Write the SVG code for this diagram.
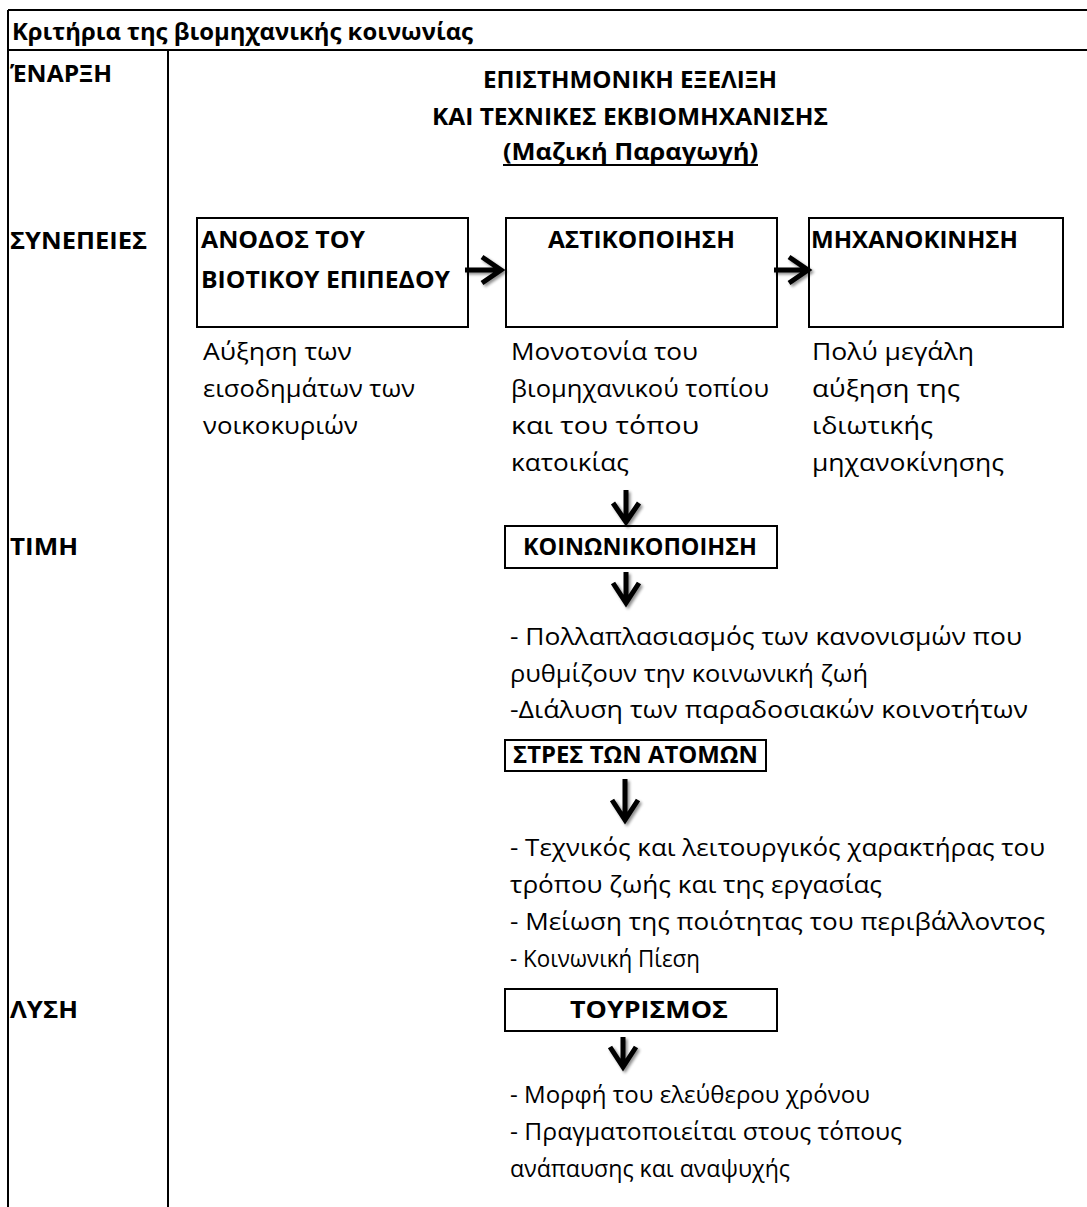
<svg xmlns="http://www.w3.org/2000/svg" width="1087" height="1207" viewBox="0 0 1087 1207">
<style>
text{font-family:"Open Sans","Noto Sans","Liberation Sans",sans-serif;font-size:23px;fill:#000}
.b{font-weight:bold}
.frame{stroke:#000;stroke-width:2;fill:none}
.box{stroke:#000;stroke-width:2;fill:#fff}
.arr{stroke:#000;stroke-width:5;fill:none;stroke-linejoin:miter;stroke-linecap:butt}
</style>
<defs>
<filter id="sh" x="-50%" y="-50%" width="200%" height="200%">
<feGaussianBlur in="SourceAlpha" stdDeviation="1.6"/>
<feOffset dx="2" dy="2" result="o"/>
<feComponentTransfer><feFuncA type="linear" slope="0.45"/></feComponentTransfer>
<feMerge><feMergeNode/><feMergeNode in="SourceGraphic"/></feMerge>
</filter>
</defs>
<rect width="1087" height="1207" fill="#fff"/>
<g id="frame">
<path class="frame" d="M8,10 H1087 M8,50 H1087 M8,10 V1207 M168,50 V1207"/>
<text class="b" x="12" y="40" textLength="461" lengthAdjust="spacingAndGlyphs">Κριτήρια της βιομηχανικής κοινωνίας</text>
</g>
<g id="labels">
<text class="b" x="10" y="82" textLength="102" lengthAdjust="spacingAndGlyphs">ΈΝΑΡΞΗ</text>
<text class="b" x="10" y="249" textLength="137" lengthAdjust="spacingAndGlyphs">ΣΥΝΕΠΕΙΕΣ</text>
<text class="b" x="10" y="555" textLength="68" lengthAdjust="spacingAndGlyphs">ΤΙΜΗ</text>
<text class="b" x="10" y="1018" textLength="68" lengthAdjust="spacingAndGlyphs">ΛΥΣΗ</text>
</g>
<g id="start">
<text class="b" x="483" y="88" textLength="294" lengthAdjust="spacingAndGlyphs">ΕΠΙΣΤΗΜΟΝΙΚΗ ΕΞΕΛΙΞΗ</text>
<text class="b" x="432" y="125" textLength="396" lengthAdjust="spacingAndGlyphs">ΚΑΙ ΤΕΧΝΙΚΕΣ ΕΚΒΙΟΜΗΧΑΝΙΣΗΣ</text>
<text class="b" x="503" y="160" textLength="255" lengthAdjust="spacingAndGlyphs">(Μαζική Παραγωγή)</text>
<rect x="503" y="164" width="255" height="2" fill="#000"/>
</g>
<g id="node-anodos">
<rect class="box" x="197" y="218" width="271" height="109"/>
<text class="b" x="201" y="248" textLength="164" lengthAdjust="spacingAndGlyphs">ΑΝΟΔΟΣ ΤΟΥ</text>
<text class="b" x="201" y="288" textLength="249" lengthAdjust="spacingAndGlyphs">ΒΙΟΤΙΚΟΥ ΕΠΙΠΕΔΟΥ</text>
<text x="203" y="360" textLength="149" lengthAdjust="spacingAndGlyphs">Αύξηση των</text>
<text x="203" y="397" textLength="212" lengthAdjust="spacingAndGlyphs">εισοδημάτων των</text>
<text x="203" y="434" textLength="155" lengthAdjust="spacingAndGlyphs">νοικοκυριών</text>
</g>
<g id="node-astikopoiisi">
<rect class="box" x="506" y="218" width="271" height="109"/>
<text class="b" x="548" y="248" textLength="187" lengthAdjust="spacingAndGlyphs">ΑΣΤΙΚΟΠΟΙΗΣΗ</text>
<text x="511" y="360" textLength="187" lengthAdjust="spacingAndGlyphs">Μονοτονία του</text>
<text x="511" y="397" textLength="258" lengthAdjust="spacingAndGlyphs">βιομηχανικού τοπίου</text>
<text x="511" y="434" textLength="188" lengthAdjust="spacingAndGlyphs">και του τόπου</text>
<text x="511" y="471" textLength="118" lengthAdjust="spacingAndGlyphs">κατοικίας</text>
</g>
<g id="node-michanokinisi">
<rect class="box" x="809" y="218" width="254" height="109"/>
<text class="b" x="811" y="248" textLength="207" lengthAdjust="spacingAndGlyphs">ΜΗΧΑΝΟΚΙΝΗΣΗ</text>
<text x="812" y="360" textLength="162" lengthAdjust="spacingAndGlyphs">Πολύ μεγάλη</text>
<text x="812" y="397" textLength="148" lengthAdjust="spacingAndGlyphs">αύξηση της</text>
<text x="812" y="434" textLength="121" lengthAdjust="spacingAndGlyphs">ιδιωτικής</text>
<text x="812" y="471" textLength="192" lengthAdjust="spacingAndGlyphs">μηχανοκίνησης</text>
</g>
<g id="node-koinonikopoiisi">
<rect class="box" x="505" y="526" width="272" height="42"/>
<text class="b" x="523" y="555" textLength="234" lengthAdjust="spacingAndGlyphs">ΚΟΙΝΩΝΙΚΟΠΟΙΗΣΗ</text>
<text x="510" y="645" textLength="512" lengthAdjust="spacingAndGlyphs">- Πολλαπλασιασμός των κανονισμών που</text>
<text x="510" y="682" textLength="358" lengthAdjust="spacingAndGlyphs">ρυθμίζουν την κοινωνική ζωή</text>
<text x="510" y="718" textLength="518" lengthAdjust="spacingAndGlyphs">-Διάλυση των παραδοσιακών κοινοτήτων</text>
</g>
<g id="node-stres">
<rect class="box" x="505" y="740" width="261" height="31"/>
<text class="b" x="513" y="763" textLength="245" lengthAdjust="spacingAndGlyphs">ΣΤΡΕΣ ΤΩΝ ΑΤΟΜΩΝ</text>
<text x="510" y="856" textLength="535" lengthAdjust="spacingAndGlyphs">- Τεχνικός και λειτουργικός χαρακτήρας του</text>
<text x="510" y="893" textLength="372" lengthAdjust="spacingAndGlyphs">τρόπου ζωής και της εργασίας</text>
<text x="510" y="930" textLength="535" lengthAdjust="spacingAndGlyphs">- Μείωση της ποιότητας του περιβάλλοντος</text>
<text x="510" y="967" textLength="190" lengthAdjust="spacingAndGlyphs">- Κοινωνική Πίεση</text>
</g>
<g id="node-tourismos">
<rect class="box" x="505" y="989" width="272" height="42"/>
<text class="b" x="570" y="1018" textLength="158" lengthAdjust="spacingAndGlyphs">ΤΟΥΡΙΣΜΟΣ</text>
<text x="510" y="1103" textLength="360" lengthAdjust="spacingAndGlyphs">- Μορφή του ελεύθερου χρόνου</text>
<text x="510" y="1140" textLength="392" lengthAdjust="spacingAndGlyphs">- Πραγματοποιείται στους τόπους</text>
<text x="510" y="1177" textLength="280" lengthAdjust="spacingAndGlyphs">ανάπαυσης και αναψυχής</text>
</g>
<g id="connectors" filter="url(#sh)">
<path class="arr" d="M465,270 H500 M482,257 L501,270 L482,283"/>
<path class="arr" d="M774,270 H806 M789,257 L808,270 L789,283"/>
<path class="arr" d="M626,490 V520 M613,503 L626,522 L639,503"/>
<path class="arr" d="M626,572 V601 M613,583 L626,603 L639,583"/>
<path class="arr" d="M625,779 V818 M612,800 L625,820 L638,800"/>
<path class="arr" d="M623,1037 V1065 M610,1047 L623,1067 L636,1047"/>
</g>
</svg>
